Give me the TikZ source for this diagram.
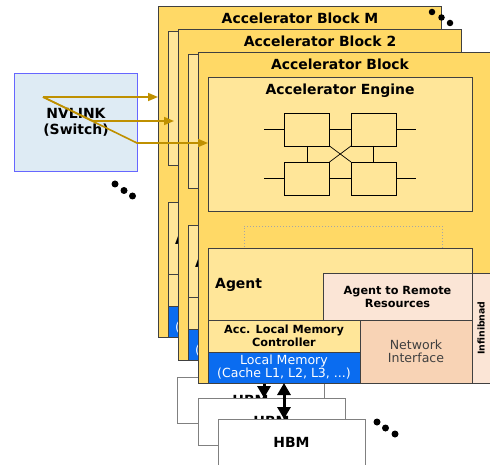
\documentclass[tikz,border=0pt]{standalone}
\usepackage{fontspec}
\setmainfont{DejaVu Sans}
\usetikzlibrary{arrows.meta}

\definecolor{blockgold}{HTML}{FFD966}
\definecolor{paleyellow}{HTML}{FFE699}
\definecolor{remotepink}{HTML}{FBE5D6}
\definecolor{netpeach}{HTML}{F8D3B5}
\definecolor{memblue}{HTML}{0A6CF0}
\definecolor{switchfill}{HTML}{DEEBF4}
\definecolor{switchedge}{HTML}{6666FF}
\definecolor{linkgold}{HTML}{BF9000}
\definecolor{edgegray}{HTML}{404040}
\definecolor{hbmedge}{HTML}{808080}

\tikzset{
  panel/.style={draw=edgegray, line width=0.8bp, inner sep=0pt, outer sep=0pt,
                anchor=north west, align=center},
  netcell/.style={draw=black, line width=0.7bp, inner sep=0pt, outer sep=0pt,
                  minimum width=45bp, minimum height=33bp},
  netwire/.style={draw=black, line width=0.7bp},
  bigfont/.style={font=\fontsize{14}{16}\selectfont\bfseries},
  smallbold/.style={font=\fontsize{11.3}{13}\selectfont\bfseries},
  smallplain/.style={font=\fontsize{12.6}{13}\selectfont},
  ibfont/.style={font=\fontsize{9.4}{11}\selectfont\bfseries},
  linkarrow/.style={draw=linkgold, line width=1.6bp,
                    -{Triangle[length=10bp,width=8bp]}},
  hbmarrow/.style={draw=black, line width=3bp,
                   {Triangle[length=12bp,width=13bp]}-{Triangle[length=12bp,width=13bp]}},
  hbmbox/.style={draw=hbmedge, fill=white, line width=0.8bp, inner sep=0pt,
                 outer sep=0pt, anchor=north west, minimum width=147bp},
  stackdot/.style={fill=black, circle, inner sep=0pt, minimum size=7bp},
}

% rectangular panel: style, name, north-west corner, width, height, text
\newcommand\panel[6]{%
  \node[panel,#1,minimum width={(#4)*1bp},minimum height={(#5)*1bp}] (#2) at (#3) {#6};}

% shell of one accelerator block: name prefix, offset, title, outer width
\newcommand\blockshell[4]{%
\begin{scope}[shift={(#2)}]
  \panel{fill=blockgold}{#1outer}{0,0}{#4}{331}{}
  \node[bigfont] (#1title) at (142,12) {#3};
  \panel{fill=paleyellow}{#1engine}{10,25}{264}{134}{}
  \panel{fill=paleyellow}{#1agent}{10,196}{264}{135}{}
  \panel{fill=paleyellow}{#1ctrl}{10,268}{152}{32}{}
  \panel{fill=memblue}{#1mem}{10,300}{152}{31}{}
\end{scope}}

% first letters of the labels that peek out of a block further back
\newcommand\backlabels[2]{%
\begin{scope}[shift={(#2)}]
  \node[bigfont, anchor=west, inner sep=0pt] (#1agentlabel) at (17,233) {A};
  \node[smallplain, text=white, anchor=west, inner sep=0pt] (#1memlabel) at (17,322) {(};
\end{scope}}

\begin{document}
\begin{tikzpicture}[x=1bp, y=-1bp]
  \useasboundingbox (0,0) rectangle (490,465);

  % stacked accelerator blocks, back to front
  \blockshell{M}{158,6}{Accelerator Block M}{283}
  \backlabels{M}{158,6}
  \blockshell{B}{178,29}{Accelerator Block 2}{283}
  \backlabels{B}{178,29}

  % memory stacks behind the front block
  \node[hbmbox, minimum height=46bp] (hbma) at (177,377) {};
  \node[bigfont] (hbmalabel) at (250.5,400) {HBM};
  \draw[hbmarrow] (Bmem.south) -- (Bmem.south |- 0,398);
  \node[hbmbox, minimum height=47bp] (hbmb) at (198,398) {};
  \node[bigfont] (hbmblabel) at (271.5,421) {HBM};

  % front block with all of its parts
  \blockshell{F}{198,52}{Accelerator Block}{310}
  \begin{scope}[shift={(198,52)}]
    \node[bigfont] (Fenginetitle) at (142,39) {Accelerator Engine};
    % switching fabric inside the engine
    \node[netcell] (Fca) at (109,77.5) {};
    \node[netcell] (Fcb) at (175.5,77.5) {};
    \node[netcell] (Fcc) at (109,126.5) {};
    \node[netcell] (Fcd) at (175.5,126.5) {};
    \draw[netwire] (Fca.east) -- (Fcb.west);
    \draw[netwire] (Fcc.east) -- (Fcd.west);
    \draw[netwire] (Fca.south) -- (Fcc.north);
    \draw[netwire] (Fcb.south) -- (Fcd.north);
    \draw[netwire] (Fca.south east) -- (Fcd.north west);
    \draw[netwire] (Fcb.south west) -- (Fcc.north east);
    \draw[netwire] (Fca.west) -- ++(-21,0);
    \draw[netwire] (Fcc.west) -- ++(-21,0);
    \draw[netwire] (Fcb.east) -- ++(20,0);
    \draw[netwire] (Fcd.east) -- ++(20,0);
    % reserved slot, partly under the agent
    \panel{draw=gray!70, line width=0.5bp, dash pattern=on 1.5bp off 1.5bp}{Fslot}{46,174}{198}{22}{}
    \panel{fill=paleyellow}{Fagent}{10,196}{264}{135}{}
    \node[bigfont, anchor=west, inner sep=0pt] (Fagentlabel) at (17,233) {Agent};
    \panel{fill=remotepink, smallbold}{Fremote}{125,221}{149}{47}{Agent to Remote\\Resources}
    \panel{fill=paleyellow, smallbold}{Fctrl}{10,268}{152}{32}{Acc. Local Memory\\Controller}
    \panel{fill=memblue, smallplain, text=white}{Fmem}{10,300}{152}{31}{Local Memory\\(Cache L1, L2, L3, ...)}
    \panel{fill=netpeach, smallplain, text=edgegray}{Fnet}{162,268}{112}{63}{Network\\Interface}
    \panel{fill=remotepink}{Fib}{274,221}{36}{110}{}
    \node[ibfont, rotate=90] (Fiblabel) at (283,276) {Infinibnad};
  \end{scope}

  \node[hbmbox, minimum height=60bp] (hbmc) at (218,419) {};
  \node[bigfont] (hbmclabel) at (291.5,442) {HBM};
  \draw[hbmarrow] (Fmem.south) -- (Fmem.south |- hbmc.north);

  % NVLink switch and its links
  \node[draw=switchedge, fill=switchfill, line width=1bp, minimum width=123bp,
        minimum height=98bp, inner sep=0pt, anchor=north west, align=center,
        bigfont] (nvlink) at (14,73) {NVLINK\\(Switch)};
  \coordinate (nvsrc) at (43,97);
  \coordinate (bendb) at (93,121);
  \coordinate (tipb) at (174,121);
  \coordinate (bendf) at (137,143);
  \draw[linkarrow] (nvsrc) -- (nvsrc -| Mouter.west);
  \draw[linkarrow] (nvsrc) -- (bendb) -- (tipb);
  \draw[linkarrow] (nvsrc) -- (bendf) -- (bendf -| Fengine.west);

  % ellipsis dots
  \node[stackdot] (dotsa1) at (115,184) {};
  \node[stackdot] (dotsa2) at (124,190.5) {};
  \node[stackdot] (dotsa3) at (132.5,196) {};
  \node[stackdot, minimum size=6.5bp] (dotsb1) at (432,12) {};
  \node[stackdot, minimum size=6.5bp] (dotsb2) at (441.5,17.5) {};
  \node[stackdot, minimum size=6.5bp] (dotsb3) at (450,23) {};
  \node[stackdot] (dotsc1) at (377,422) {};
  \node[stackdot] (dotsc2) at (385.5,428) {};
  \node[stackdot] (dotsc3) at (395,434) {};
\end{tikzpicture}
\end{document}
